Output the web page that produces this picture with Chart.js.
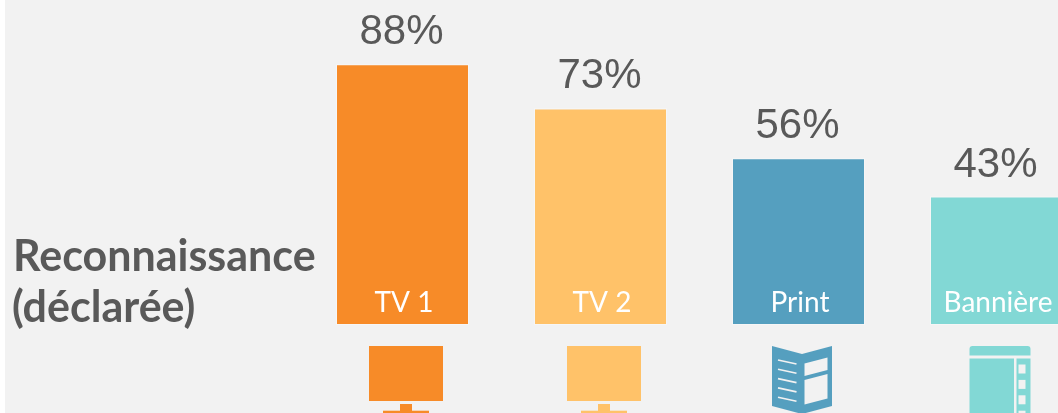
<!DOCTYPE html>
<html><head><meta charset="utf-8">
<style>html,body{margin:0;padding:0;background:#fff;overflow:hidden;width:1058px;height:413px}
#w{position:absolute;left:0;top:0;width:1100px;height:413px}</style>
<script src="https://cdn.jsdelivr.net/npm/chart.js@4"></script></head><body>
<div id="w"><canvas id="c" width="1100" height="413" style="width:1100px;height:413px"></canvas></div>
<script>
const categories=["TV 1","TV 2","Print","Bannière"];
const values=[88,73,56,43];
const colors=["#F78B28","#FFC269","#559FBF","#82D8D5"];
const iconKinds=["tv","tv","print","banner"];
const titleLines=["Reconnaissance","(déclarée)"];
const BG="#F2F2F2",INK="#595959";
const poly=(ctx,p)=>{ctx.beginPath();p.forEach((q,i)=>i?ctx.lineTo(q[0],q[1]):ctx.moveTo(q[0],q[1]));ctx.closePath();ctx.fill();};
function drawIcon(ctx,kind,cx,y0,col){
  ctx.save();ctx.fillStyle=col;
  if(kind==="tv"){
    ctx.fillRect(cx-37,y0,74,55);
    ctx.fillRect(cx-6,y0+58,12,8);
    ctx.fillRect(cx-23,y0+64.7,46,5);
  }else if(kind==="print"){
    poly(ctx,[[cx-30,y0],[cx,y0+8],[cx+30,y0],[cx+30,y0+60],[cx,y0+68],[cx-30,y0+60]]);
    ctx.strokeStyle=BG;ctx.lineWidth=1.6;
    for(let i=0;i<5;i++){const y=y0+14+i*9.3;ctx.beginPath();ctx.moveTo(cx-24,y);ctx.lineTo(cx-5.5,y+4);ctx.stroke();}
    ctx.fillStyle=BG;
    poly(ctx,[[cx+2.5,y0+17.5],[cx+25.5,y0+11.5],[cx+25.5,y0+24],[cx+2.5,y0+30]]);
    poly(ctx,[[cx+2.5,y0+34],[cx+25.5,y0+28],[cx+25.5,y0+52.5],[cx+2.5,y0+58.5]]);
  }else{
    ctx.beginPath();ctx.roundRect(cx-30.5,y0,61,9.5,[3,3,0,0]);ctx.fill();
    ctx.fillRect(cx-30.5,y0+12.5,44.5,60);
    ctx.fillRect(cx+16.5,y0+12.5,14,60);
    ctx.fillStyle=BG;
    for(let i=0;i<4;i++)ctx.fillRect(cx+18.5,y0+18.5+i*15.4,7,9);
  }
  ctx.restore();
}
const deco={id:"deco",
  beforeDraw(ch){const c=ch.ctx;c.save();c.fillStyle=BG;c.fillRect(5,0,ch.width,ch.height);
    c.fillStyle=INK;c.font="bold 43px Lato";c.textBaseline="alphabetic";c.textAlign="left";
    c.fillText(titleLines[0],13,271);c.fillText(titleLines[1],12,321.5);c.restore();},
  beforeDatasetsDraw(ch){const c=ch.ctx;c.save();c.strokeStyle="rgba(255,255,255,0.35)";c.lineWidth=1;
    ch.getDatasetMeta(0).data.forEach(b=>{c.strokeRect(b.x-b.width/2-0.5,b.y-0.5,b.width+1,b.base-b.y+1);});c.restore();},
  afterDatasetsDraw(ch){const c=ch.ctx,x=ch.scales.x,y=ch.scales.y,base=y.getPixelForValue(0);
    c.save();c.textAlign="center";
    categories.forEach((n,i)=>{const px=x.getPixelForValue(i);
      c.fillStyle="#fff";c.font="28px Lato";c.textBaseline="alphabetic";c.fillText(n,px+1.5,312);
      c.fillStyle=INK;c.font="42px 'Liberation Sans'";c.fillText(values[i]+"%",px-1,y.getPixelForValue(values[i])-21);
      drawIcon(c,iconKinds[i],px+3.5,base+22,colors[i]);
    });c.restore();}
};
new Chart(document.getElementById("c"),{type:"bar",
  data:{labels:categories,datasets:[{data:values,backgroundColor:colors,borderWidth:0,inflateAmount:0,barPercentage:131/198,categoryPercentage:1}]},
  options:{responsive:false,animation:false,
    layout:{padding:{left:303.5,right:4.5,top:30,bottom:89}},
    plugins:{legend:{display:false},tooltip:{enabled:false}},
    scales:{x:{display:false},y:{display:false,min:0,max:100}}},
  plugins:[deco]});
</script></body></html>
